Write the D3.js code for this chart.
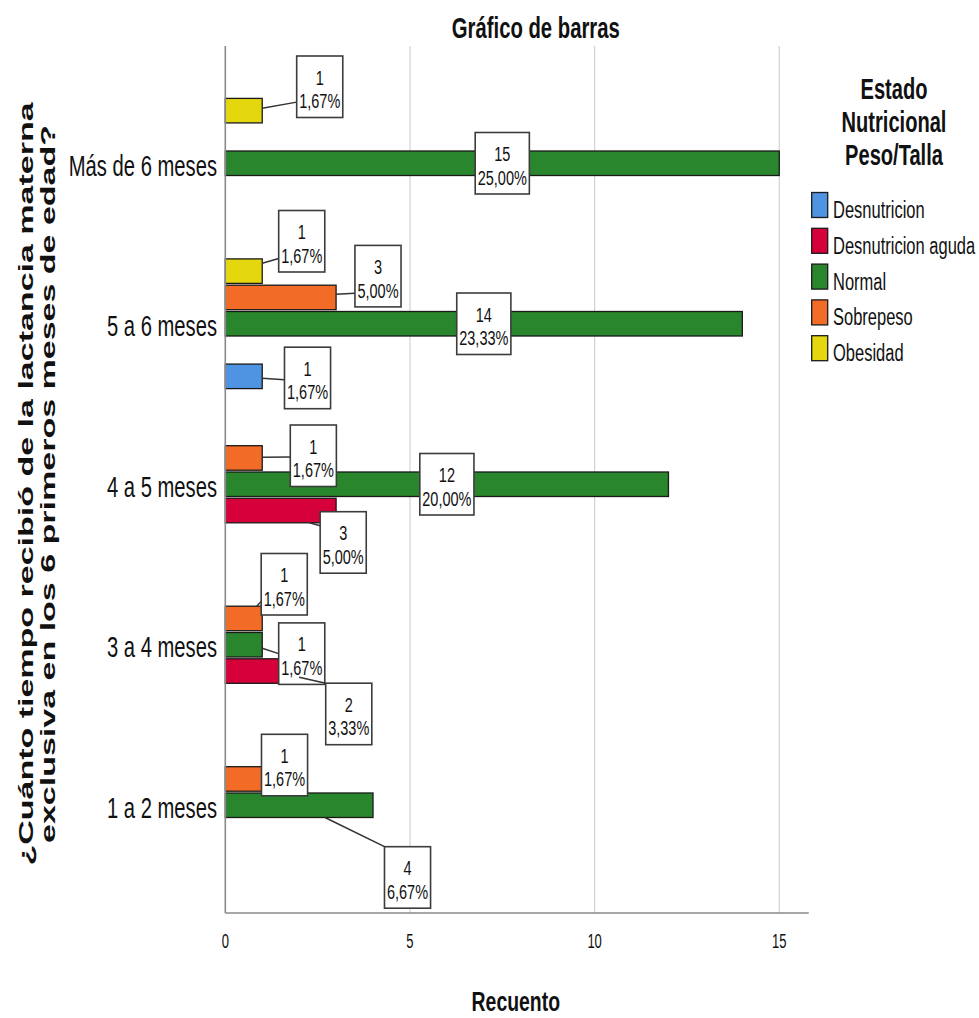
<!DOCTYPE html>
<html>
<head>
<meta charset="utf-8">
<script src="https://cdn.jsdelivr.net/npm/d3@7"></script>
<style>
  html, body { margin: 0; padding: 0; background: #ffffff; }
  svg { display: block; }
  text { font-family: "Liberation Sans", Arial, sans-serif; fill: #111; }
</style>
</head>
<body>
<svg id="chart" width="979" height="1018"></svg>
<script>
// ---- data ----
const categories = ["Más de 6 meses", "5 a 6 meses", "4 a 5 meses", "3 a 4 meses", "1 a 2 meses"];
const seriesNames = ["Desnutricion", "Desnutricion aguda", "Normal", "Sobrepeso", "Obesidad"];
const seriesColors = ["#4f93e3", "#d6003a", "#2a862c", "#f26c28", "#e4d70e"];

const desnutricion      = [0, 1, 0, 0, 0];
const desnutricionAguda = [0, 0, 3, 2, 0];
const normal            = [15, 14, 12, 1, 4];
const sobrepeso         = [0, 3, 1, 1, 1];
const obesidad          = [1, 1, 0, 0, 0];
const seriesValues = [desnutricion, desnutricionAguda, normal, sobrepeso, obesidad];

const xTicks = [0, 5, 10, 15];
const totalN = d3.sum(seriesValues.flat());

// placement of each value box relative to its bar (at: fraction of bar length used as
// the base point, dx/dy: pixel offset of box centre, lx/ly: leader start on the bar,
// ex/ey: leader end on the box as fractions of its size)
const labelLayout = [
  { cat: "Más de 6 meses", ser: "Obesidad", at: 1, dx: 57.5, dy: -23.9, lx: 1, ly: -0.1, ex: -0.5, ey: 0.25 },
  { cat: "Más de 6 meses", ser: "Normal", at: 0.5, dx: 0, dy: 0 },
  { cat: "5 a 6 meses", ser: "Obesidad", at: 1, dx: 39.5, dy: -29.9, lx: 1, ly: -0.32, ex: -0.5, ey: 0.28 },
  { cat: "5 a 6 meses", ser: "Sobrepeso", at: 1, dx: 41.9, dy: -21.3, lx: 1, ly: -0.13, ex: -0.5, ey: 0.28 },
  { cat: "5 a 6 meses", ser: "Normal", at: 0.5, dx: 0, dy: 0 },
  { cat: "5 a 6 meses", ser: "Desnutricion", at: 1, dx: 45.3, dy: 1.6, lx: 1, ly: 0.08, ex: -0.5, ey: 0.03 },
  { cat: "4 a 5 meses", ser: "Sobrepeso", at: 1, dx: 51.1, dy: -2.2, lx: 1, ly: -0.03, ex: -0.5, ey: 0.02 },
  { cat: "4 a 5 meses", ser: "Normal", at: 0.5, dx: 0, dy: 0 },
  { cat: "4 a 5 meses", ser: "Desnutricion aguda", at: 1, dx: 7.1, dy: 31.9, lx: 0.76, ly: 0.5, ex: -0.5, ey: -0.27 },
  { cat: "3 a 4 meses", ser: "Sobrepeso", at: 1, dx: 22, dy: -34.2, lx: 0.85, ly: -0.5, ex: -0.5, ey: 0.28 },
  { cat: "3 a 4 meses", ser: "Normal", at: 1, dx: 39.5, dy: 8.9, lx: 1, ly: 0.14, ex: -0.5, ey: 0 },
  { cat: "3 a 4 meses", ser: "Desnutricion aguda", at: 1, dx: 49.6, dy: 42.9, lx: 1, ly: 0.25, ex: -0.5, ey: -0.5 },
  { cat: "1 a 2 meses", ser: "Sobrepeso", at: 1, dx: 22.3, dy: -13.9 },
  { cat: "1 a 2 meses", ser: "Normal", at: 1, dx: 34.5, dy: 72.2, lx: 0.675, ly: 0.5, ex: -0.5, ey: -0.5 }
];

// ---- drawing ----
const S = 1.45; // vertical stretch of lettering
const svg = d3.select("#chart");

const plot = { left: 225.3, right: 808.8, top: 46, bottom: 913 };

const x = d3.scaleLinear().domain([0, 15.8]).range([plot.left, plot.right]);
const yCat = d3.scaleBand().domain(categories).range([83, 885.5]).padding(0);
const slotOrder = seriesNames.slice().reverse(); // Obesidad on top of each cluster
const ySlot = d3.scaleBand().domain(slotOrder).range([-65.75, 65.75])
  .paddingInner(0.068).paddingOuter(0.034);
const bh = ySlot.bandwidth();
const color = d3.scaleOrdinal().domain(seriesNames).range(seriesColors);

const catCenter = c => yCat(c) + yCat.bandwidth() / 2;
const barCenter = (c, s) => catCenter(c) + ySlot(s) + bh / 2;

// text drawn narrow and tall
function sText(parent, px, py, str, size, opts = {}) {
  const k = opts.stretch || S;
  const g = parent.append("g").attr("transform", `translate(${px},${py}) scale(${1 / k},1)`);
  return g.append("text")
    .attr("font-size", size * k)
    .attr("font-weight", opts.bold ? "bold" : "normal")
    .attr("text-anchor", opts.anchor || "start")
    .text(str);
}

const pct = v => (v / totalN * 100).toFixed(2).replace(".", ",") + "%";

// grid lines
svg.append("g").selectAll("line").data(xTicks.filter(t => t > 0)).join("line")
  .attr("x1", d => x(d)).attr("x2", d => x(d))
  .attr("y1", plot.top).attr("y2", plot.bottom)
  .attr("stroke", "#d2d2d2").attr("stroke-width", 1.2);

// bars
const barData = [];
seriesNames.forEach((s, si) => categories.forEach((c, ci) => {
  const v = seriesValues[si][ci];
  if (v > 0) barData.push({ s, c, v });
}));
svg.append("g").selectAll("rect").data(barData).join("rect")
  .attr("x", x(0))
  .attr("y", d => barCenter(d.c, d.s) - bh / 2)
  .attr("width", d => x(d.v) - x(0))
  .attr("height", bh)
  .attr("fill", d => color(d.s))
  .attr("stroke", "#1a1a1a").attr("stroke-width", 1.3);

// axis lines
svg.append("line").attr("x1", plot.left).attr("x2", plot.left)
  .attr("y1", plot.top).attr("y2", plot.bottom)
  .attr("stroke", "#8a8a8a").attr("stroke-width", 1.6);
svg.append("line").attr("x1", plot.left).attr("x2", plot.right)
  .attr("y1", plot.bottom).attr("y2", plot.bottom)
  .attr("stroke", "#8a8a8a").attr("stroke-width", 1.6);

// x tick labels
xTicks.forEach(t => sText(svg, x(t), 948, String(t), 13, { anchor: "middle", stretch: 1.55 }));

// category labels
categories.forEach(c => sText(svg, 217, catCenter(c) + 12.7, c, 20.2, { anchor: "end", stretch: 1.5 }).attr("fill", "#1c1c1c"));

// value boxes: count on the first line, share of the total on the second
const labelsG = svg.append("g");
labelLayout.forEach(L => {
  const si = seriesNames.indexOf(L.ser), ci = categories.indexOf(L.cat);
  const v = seriesValues[si][ci];
  const cy = barCenter(L.cat, L.ser);
  const bx = x(v * L.at) + L.dx, by = cy + L.dy;
  const g = labelsG.append("g");
  const line = g.append("line");
  const rect = g.append("rect");
  const k = 1.4;
  const t1 = sText(g, bx, by - 2.2, String(v), 14.5, { anchor: "middle", stretch: k });
  const t2 = sText(g, bx, by + 21.4, pct(v), 14.5, { anchor: "middle", stretch: k });
  const w = Math.max(t1.node().getComputedTextLength(), t2.node().getComputedTextLength()) / k + 5;
  const h = 61.5;
  rect.attr("x", bx - w / 2).attr("y", by - h / 2).attr("width", w).attr("height", h)
    .attr("fill", "#fff").attr("stroke", "#3c3c3c").attr("stroke-width", 1.6);
  if (L.lx != null) {
    line.attr("x1", x(v * L.lx)).attr("y1", cy + L.ly * bh)
      .attr("x2", bx + L.ex * w).attr("y2", by + L.ey * h)
      .attr("stroke", "#333").attr("stroke-width", 1.5);
  }
});

// titles
sText(svg, 535.8, 38, "Gráfico de barras", 20.3, { bold: true, anchor: "middle" });
sText(svg, 515.8, 1011, "Recuento", 19.4, { bold: true, anchor: "middle" });

// y axis title (two lines, rotated)
const yTitle = svg.append("g").attr("transform", `translate(0,484) scale(1,1.62) rotate(-90)`);
yTitle.append("text").attr("x", 0).attr("y", 33).attr("text-anchor", "middle")
  .attr("font-size", 21).attr("font-weight", "bold")
  .text("¿Cuánto tiempo recibió de la lactancia materna");
yTitle.append("text").attr("x", 0).attr("y", 55).attr("text-anchor", "middle")
  .attr("font-size", 21).attr("font-weight", "bold")
  .text("exclusiva en los 6 primeros meses de edad?");

// legend
["Estado", "Nutricional", "Peso/Talla"].forEach((t, i) =>
  sText(svg, 894, 98.5 + i * 33, t, 20.1, { bold: true, anchor: "middle" }));
const legend = svg.append("g");
seriesNames.forEach((s, i) => {
  const cy = 205 + i * 35.8;
  legend.append("rect").attr("x", 811.7).attr("y", cy - 12.5).attr("width", 16).attr("height", 25)
    .attr("fill", color(s)).attr("stroke", "#1a1a1a").attr("stroke-width", 1.3);
  sText(legend, 833, cy + 13, s, 16.5).attr("fill", "#1c1c1c");
});
</script>
</body>
</html>
